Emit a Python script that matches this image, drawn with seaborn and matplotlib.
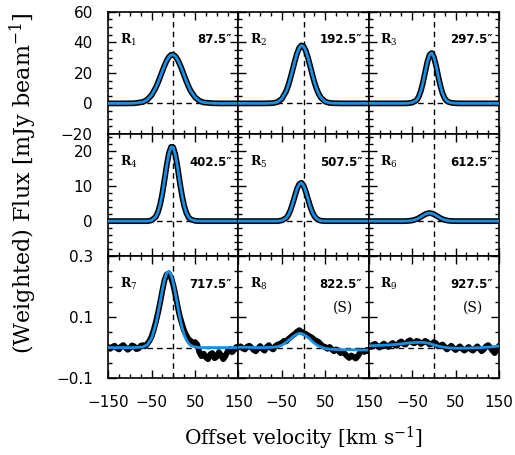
import matplotlib
matplotlib.use("Agg")
import matplotlib.pyplot as plt
from matplotlib.ticker import FixedLocator, MultipleLocator, FixedFormatter
import pandas as pd
import seaborn as sns

sns.set_style("ticks", {"axes.edgecolor": "black", "xtick.color": "black",
                        "ytick.color": "black", "text.color": "black"})
plt.rcParams['font.family'] = ['DejaVu Sans']
plt.rcParams['mathtext.fontset'] = 'dejavuserif'

# velocity grid of the fitted profiles (km/s)
vel_fit = [-150, -130, -110, -90, -70, -60, -50,
           -40, -35, -30, -25, -20, -15, -10, -5, 0,
           5, 10, 15, 20, 25, 30, 35, 40,
           50, 60, 70, 90, 110, 130, 150]

# fitted / observed profiles, rows 1-2 (mJy/beam)
r1 = [0, 0, 0, 0.1, 0.9, 2.4, 5.4, 10.5, 13.8, 17.5, 21.3, 24.9, 28.1, 30.5, 31.8, 31.9,
      30.8, 28.6, 25.6, 22.1, 18.3, 14.6, 11.2, 8.2, 4.0, 1.7, 0.6, 0.1, 0, 0, 0]
r2 = [0, 0, 0, 0, 0.2, 0.9, 3.0, 8.0, 12.0, 16.9, 22.4, 27.9, 32.9, 36.4, 38.0, 37.3,
      34.5, 30.0, 24.6, 19.0, 13.8, 9.5, 6.1, 3.7, 1.1, 0.3, 0.1, 0, 0, 0, 0]
r3 = [0, 0, 0, 0, 0, 0.1, 0.5, 2.0, 4.3, 8.2, 13.8, 20.6, 27.2, 31.8, 33.0, 30.3,
      24.7, 17.8, 11.4, 6.5, 3.3, 1.5, 0.8, 0.4, 0.1, 0, 0, 0, 0, 0, 0]
r4 = [0, 0, 0, 0, 0, 0, 0.2, 1.3, 2.7, 4.9, 8.1, 12.0, 16.1, 19.5, 21.3, 21.1,
      18.9, 15.3, 11.1, 7.4, 4.4, 2.4, 1.1, 0.5, 0.1, 0, 0, 0, 0, 0, 0]
r5 = [0, 0, 0, 0, 0, 0, 0.2, 0.9, 1.8, 3.2, 5.1, 7.2, 9.3, 10.6, 11.0, 10.2,
      8.5, 6.4, 4.3, 2.6, 1.4, 0.7, 0.3, 0.1, 0, 0, 0, 0, 0, 0, 0]
r6 = [0, 0, 0, 0, 0, 0.05, 0.19, 0.56, 0.86, 1.23, 1.61, 1.97, 2.21, 2.3, 2.21, 1.97,
      1.61, 1.23, 0.86, 0.56, 0.34, 0.19, 0.1, 0.05, 0, 0, 0, 0, 0, 0, 0]

# fitted profiles, row 3 (weighted)
r7_fit = [0, 0, 0, 0, 0.002, 0.009, 0.031, 0.079, 0.114, 0.152, 0.191, 0.224, 0.245, 0.25, 0.238, 0.212,
          0.176, 0.137, 0.099, 0.067, 0.042, 0.025, 0.014, 0.007, 0.002, 0, 0, 0, 0, 0, 0]
r8_fit = [0.001, 0.001, 0.0, 0.0, 0.001, 0.003, 0.008, 0.017, 0.023, 0.029, 0.035, 0.040, 0.044, 0.047, 0.046, 0.043,
          0.039, 0.033, 0.027, 0.020, 0.014, 0.009, 0.005, 0.002, -0.003, -0.005, -0.006, -0.007, -0.007, -0.008, -0.008]
r9_fit = [0.006, 0.007, 0.008, 0.010, 0.013, 0.015, 0.016, 0.017, 0.017, 0.017, 0.017, 0.016, 0.015, 0.013, 0.011, 0.009,
          0.007, 0.005, 0.003, 0.002, 0.001, 0.0, -0.001, -0.001, -0.002, -0.002, -0.002, -0.001, 0.0, 0.002, 0.005]

# observed channels, row 3
vel_obs = [-150, -145, -140, -135, -130, -125, -120, -115, -110, -105, -100, -95, -90, -85, -80, -75,
           -70, -65, -60, -55, -50, -45, -40, -35, -30, -25, -20, -15, -10, -5, 0,
           5, 10, 15, 20, 25, 30, 35, 40, 45, 50, 55, 60, 65, 70, 75,
           80, 85, 90, 95, 100, 105, 110, 115, 120, 125, 130, 135, 140, 145, 150]
r7_obs = [0.002, -0.004, 0.003, 0.006, -0.002, -0.006, 0.004, 0.008, 0.0, -0.007, -0.002, 0.007, 0.004, -0.005, -0.003, 0.006,
          0.008, 0.004, 0.012, 0.022, 0.036, 0.058, 0.085, 0.115, 0.150, 0.188, 0.222, 0.240, 0.242, 0.228, 0.205,
          0.172, 0.135, 0.102, 0.078, 0.055, 0.040, 0.028, 0.022, 0.012, 0.018, 0.010, -0.015, -0.028, -0.020, -0.032,
          -0.038, -0.022, -0.018, -0.035, -0.030, -0.015, -0.025, -0.038, -0.028, -0.012, -0.005, -0.015, -0.008, 0.002, -0.004]
r8_obs = [0.0, 0.004, -0.003, -0.006, 0.003, 0.006, 0.0, -0.008, -0.012, -0.003, 0.005, -0.004, -0.010, 0.002, 0.008, -0.002,
          -0.006, 0.005, 0.010, 0.012, 0.016, 0.022, 0.020, 0.028, 0.034, 0.040, 0.045, 0.052, 0.057, 0.052, 0.048,
          0.045, 0.040, 0.036, 0.032, 0.025, 0.022, 0.018, 0.010, 0.004, 0.002, -0.004, 0.002, -0.006, -0.012, -0.006,
          -0.010, -0.018, -0.014, -0.020, -0.028, -0.034, -0.026, -0.030, -0.036, -0.028, -0.016, -0.010, -0.014, -0.008, -0.012]
r9_obs = [0.008, 0.002, 0.010, 0.012, 0.004, 0.0, 0.008, 0.013, 0.006, 0.002, 0.010, 0.015, 0.008, 0.006, 0.016, 0.020,
          0.012, 0.010, 0.020, 0.024, 0.016, 0.014, 0.022, 0.020, 0.012, 0.016, 0.022, 0.018, 0.010, 0.012, 0.018,
          0.014, 0.004, 0.006, 0.010, 0.002, -0.006, 0.0, 0.006, -0.002, -0.008, -0.002, 0.004, -0.004, -0.010, -0.004,
          0.002, -0.006, -0.010, -0.002, 0.004, -0.004, -0.012, -0.006, 0.004, 0.008, 0.0, -0.010, -0.018, -0.006, 0.006]

region_labels = ["R$_1$", "R$_2$", "R$_3$", "R$_4$", "R$_5$", "R$_6$", "R$_7$", "R$_8$", "R$_9$"]
offset_labels = ["87.5″", "192.5″", "297.5″", "402.5″", "507.5″", "612.5″", "717.5″", "822.5″", "927.5″"]
flag_labels = ["", "", "", "", "", "", "", "(S)", "(S)"]

obs_x = [vel_fit] * 6 + [vel_obs] * 3
obs_y = [r1, r2, r3, r4, r5, r6, r7_obs, r8_obs, r9_obs]
fit_y = [r1, r2, r3, r4, r5, r6, r7_fit, r8_fit, r9_fit]

row_ylim = [(-20, 60), (-10, 25), (-0.1, 0.3)]
row_yticks = [[-20, 0, 20, 40, 60], [-10, 0, 10, 20], [-0.1, 0.1, 0.3]]
row_ylabels = [["−20", "0", "20", "40", "60"], ["", "0", "10", "20"], ["−0.1", "0.1", "0.3"]]
row_minor = [5, 2, 0.05]

blue = "#1691e6"

fig, axes = plt.subplots(3, 3, figsize=(5.15, 4.55), dpi=100)
fig.subplots_adjust(left=0.21, right=0.969, top=0.974, bottom=0.169, wspace=0, hspace=0)

for i, ax in enumerate(axes.flat):
    row, col = divmod(i, 3)
    ax.axvline(0, color="black", lw=1.0, ls=(0, (4, 3)), zorder=1)
    ax.axhline(0, color="black", lw=1.0, ls=(0, (4, 3)), zorder=1)
    df_obs = pd.DataFrame({"v": obs_x[i], "flux": obs_y[i]})
    df_fit = pd.DataFrame({"v": vel_fit, "flux": fit_y[i]})
    sns.lineplot(data=df_obs, x="v", y="flux", ax=ax, color="black",
                 lw=4.2, zorder=2)
    sns.lineplot(data=df_fit, x="v", y="flux", ax=ax, color=blue, lw=2.0, zorder=3)

    ax.set_xlim(-150, 150)
    ax.set_ylim(*row_ylim[row])
    ax.set_xlabel("")
    ax.set_ylabel("")

    ax.xaxis.set_major_locator(FixedLocator([-150, -50, 50, 150]))
    ax.xaxis.set_minor_locator(MultipleLocator(25))
    xl = ["−150", "−50", "50", "150"] if col == 0 else ["", "−50", "50", "150"]
    ax.xaxis.set_major_formatter(FixedFormatter(xl))
    ax.yaxis.set_major_locator(FixedLocator(row_yticks[row]))
    ax.yaxis.set_minor_locator(MultipleLocator(row_minor[row]))
    ax.yaxis.set_major_formatter(FixedFormatter(row_ylabels[row]))

    ax.tick_params(which="both", direction="in", top=True, right=True, width=1.0,
                   colors="black", labelsize=11, labelbottom=(row == 2),
                   labelleft=(col == 0))
    ax.tick_params(axis="x", pad=12)
    ax.tick_params(axis="y", pad=11)
    ax.tick_params(which="major", length=6)
    ax.tick_params(which="minor", length=3)
    for s in ax.spines.values():
        s.set_linewidth(1.2)
        s.set_color("black")

    ax.text(0.09, 0.77, region_labels[i], transform=ax.transAxes, fontsize=9,
            family="DejaVu Serif", fontweight="bold", ha="left", va="center")
    ax.text(0.95, 0.77, offset_labels[i], transform=ax.transAxes, fontsize=8.5,
            family="DejaVu Sans", fontweight="bold", ha="right", va="center")
    if flag_labels[i]:
        ax.text(0.80, 0.58, flag_labels[i], transform=ax.transAxes, fontsize=10,
                family="DejaVu Serif", ha="center", va="center")

fig.text(0.589, 0.037, "Offset velocity [km s$^{-1}$]", ha="center", va="center",
         fontsize=14.5, family="DejaVu Serif")
fig.text(0.046, 0.598, "(Weighted) Flux [mJy beam$^{-1}$]", ha="center", va="center",
         rotation=90, fontsize=16, family="DejaVu Serif")

fig.savefig("out.png", dpi=100)
